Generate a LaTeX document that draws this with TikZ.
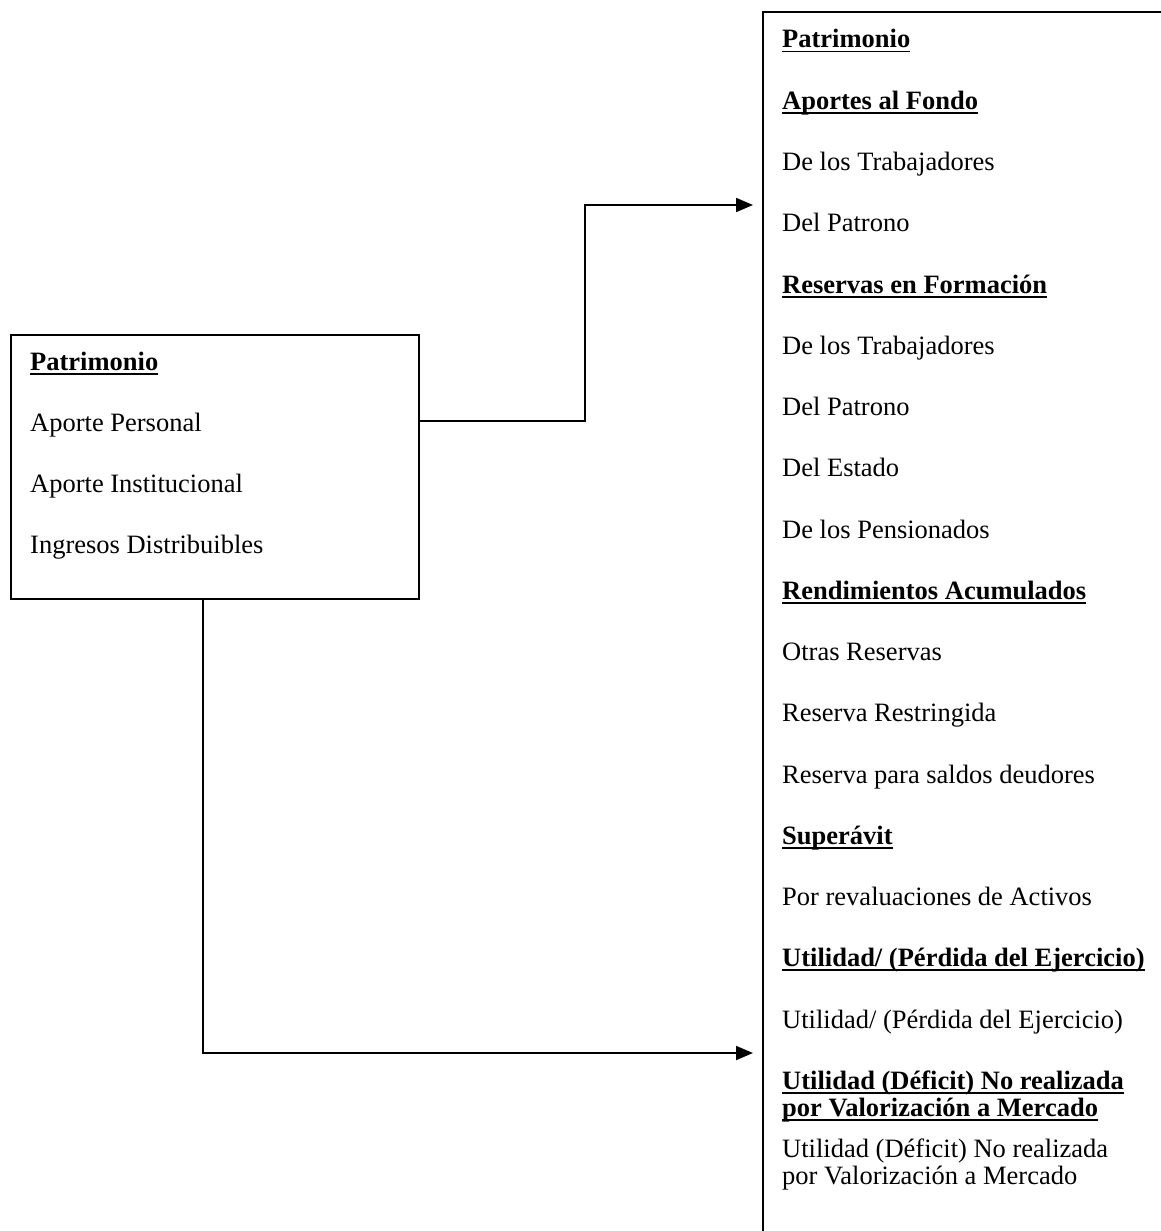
\documentclass[tikz,border=0pt]{standalone}
\usepackage{fontspec}
\setmainfont{Liberation Serif}
\usetikzlibrary{arrows.meta}
% bold heading with a heavy underline
\newcommand\headline[1]{\setbox0\hbox{\bfseries #1}\rlap{\rule[-4.5pt]{\wd0}{1.8pt}}\box0}
\begin{document}
\begin{tikzpicture}[x=1pt,y=-1pt,
  every node/.style={font=\fontsize{26.5}{27}\selectfont},
  item/.style={anchor=base west,inner sep=0pt},
  frame/.style={draw,line width=2pt,inner sep=0pt,anchor=north west},
  link/.style={line width=1.8pt,shorten >=9pt,-{Triangle[length=17pt,width=14pt]}}]
\useasboundingbox (0,0) rectangle (1161,1231);
\fill[white] (0,0) rectangle (1161,1231);
\begin{scope}
\clip (0,0) rectangle (1161,1231);
% right-hand frame runs off the page at the right and bottom
\node[frame,minimum width=500pt,minimum height=1300pt] (rbox) at (762,11) {};
\end{scope}
% left-hand frame
\node[frame,minimum width=408pt,minimum height=264pt] (lbox) at (10,334) {};

% left box contents
\node[item] (l0) at (30,370) {\headline{Patrimonio}};
\node[item] (l1) at (30,431) {Aporte Personal};
\node[item] (l2) at (30,492) {Aporte Institucional};
\node[item] (l3) at (30,553) {Ingresos Distribuibles};

% right box contents
\node[item] (r0)  at (782,48)     {\headline{Patrimonio}};
\node[item] (r1)  at (782,109.25) {\headline{Aportes al Fondo}};
\node[item] (r2)  at (782,170.5)  {De los Trabajadores};
\node[item] (r3)  at (782,231.75) {Del Patrono};
\node[item] (r4)  at (782,293)    {\headline{Reservas en Formación}};
\node[item] (r5)  at (782,354.25) {De los Trabajadores};
\node[item] (r6)  at (782,415.5)  {Del Patrono};
\node[item] (r7)  at (782,476.75) {Del Estado};
\node[item] (r8)  at (782,538)    {De los Pensionados};
\node[item] (r9)  at (782,599.25) {\headline{Rendimientos Acumulados}};
\node[item] (r10) at (782,660.5)  {Otras Reservas};
\node[item] (r11) at (782,721.75) {Reserva Restringida};
\node[item] (r12) at (782,783)    {Reserva para saldos deudores};
\node[item] (r13) at (782,844.25) {\headline{Superávit}};
\node[item] (r14) at (782,905.5)  {Por revaluaciones de Activos};
\node[item] (r15) at (782,966.75) {\headline{Utilidad/ (Pérdida del Ejercicio)}};
\node[item] (r16) at (782,1028)   {Utilidad/ (Pérdida del Ejercicio)};
\node[item] (r17) at (782,1089)   {\headline{Utilidad (Déficit) No realizada}};
\node[item] (r17b) at (782,1116)  {\headline{por Valorización a Mercado}};
\node[item] (r18) at (782,1157)   {Utilidad (Déficit) No realizada};
\node[item] (r18b) at (782,1184)  {por Valorización a Mercado};

% connector bends
\coordinate (upturn) at (585,205);
\coordinate (downturn) at (203,1053);

\draw[link] (lbox.east |- 0,421) -| (upturn) -- (rbox.west |- upturn);
\draw[link] (lbox.south -| downturn) |- (rbox.west |- downturn);
\end{tikzpicture}
\end{document}
